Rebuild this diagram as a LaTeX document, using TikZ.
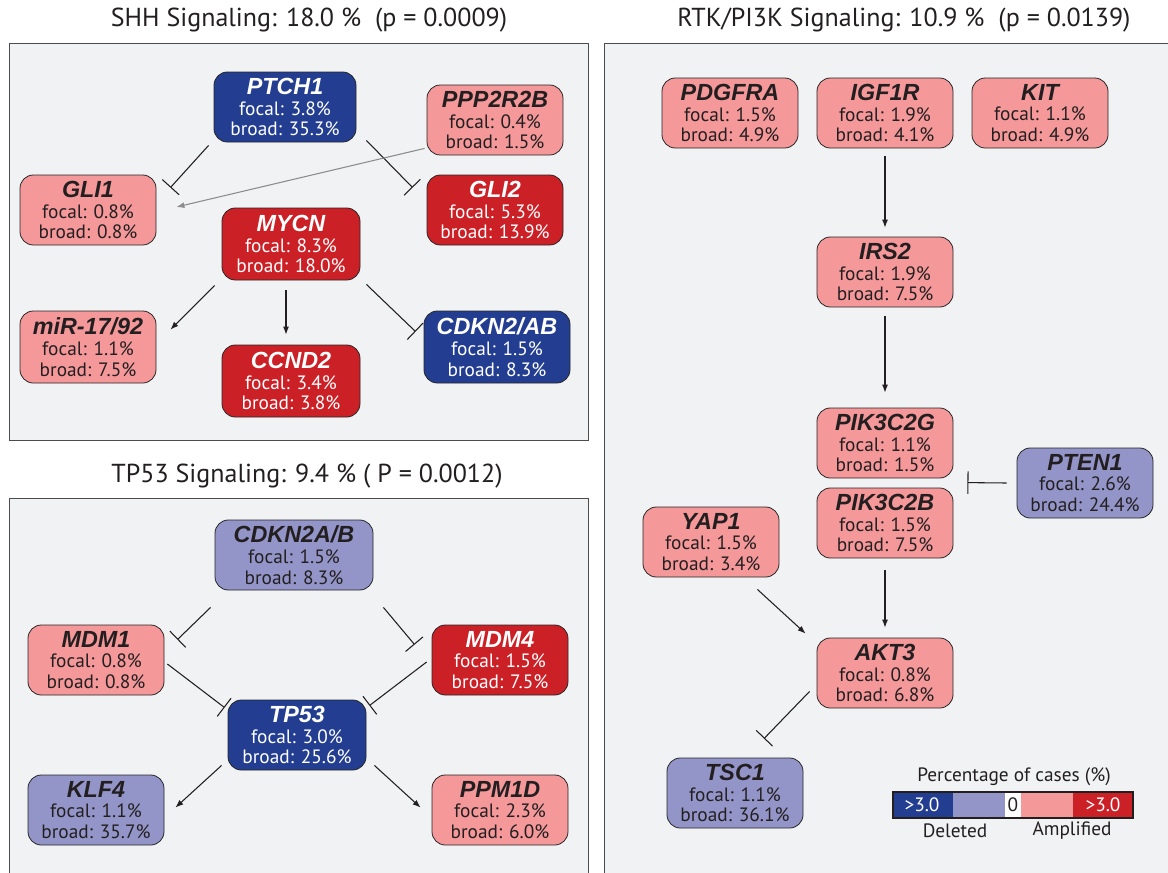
\documentclass[tikz,border=0pt]{standalone}
\usepackage{fontspec}
\setmainfont{PT Sans}
\newfontfamily\genefam{Liberation Sans}
\usetikzlibrary{arrows.meta,calc}
\definecolor{dblue}{RGB}{35,62,145}
\definecolor{lavc}{RGB}{147,149,200}
\definecolor{pinkc}{RGB}{244,152,154}
\definecolor{redc}{RGB}{204,32,39}
\definecolor{panelbg}{RGB}{241,242,244}
\definecolor{txt}{RGB}{35,31,32}
\newcommand\bodyfont{\fontsize{14.5}{15.5}\selectfont}
\newcommand\gn[1]{{\genefam\bfseries\itshape\fontsize{17.5}{15.5}\selectfont #1}}
\tikzset{
  gbox/.style={rectangle, rounded corners=10pt, draw=black!85, line width=0.6pt,
    minimum width=102pt, minimum height=52.5pt, align=center, inner sep=0pt, font=\bodyfont},
  amp/.style={gbox, fill=pinkc, text=txt},
  ampH/.style={gbox, fill=redc, text=white},
  del/.style={gbox, fill=lavc, text=txt},
  delH/.style={gbox, fill=dblue, text=white},
  act/.style={-{Latex[length=6pt,width=4.5pt]}, line width=0.8pt, draw=txt},
  inh/.style={-{Bar[width=17pt,line width=0.8pt]}, line width=0.8pt, draw=txt},
  panel/.style={fill=panelbg, draw=black!70, line width=0.7pt},
  ttl/.style={font=\fontsize{19.5}{24}\selectfont, text=txt},
  leg/.style={font=\fontsize{14.5}{16}\selectfont, text=txt, inner sep=0pt},
}
\begin{document}
\begin{tikzpicture}[x=0.75pt,y=-0.75pt]
\useasboundingbox (0,0) rectangle (1168,872);
\clip (0,0) rectangle (1168,872);
\fill[white] (0,0) rectangle (1168,872);

% panels
\draw[panel] (9,43) rectangle (588,440);
\draw[panel] (9,498) rectangle (588,890);
\draw[panel] (604,43) rectangle (1190,890);

% titles
\node[ttl] (tshh) at (309,20) {SHH Signaling: 18.0 \%\ \ (p = 0.0009)};
\node[ttl] (ttp) at (307,476) {TP53 Signaling: 9.4 \% ( P = 0.0012)};
\node[ttl] (trtk) at (904,20) {RTK/PI3K Signaling: 10.9 \%\ \ (p = 0.0139)};

% ---------- SHH ----------
\node[delH, minimum width=106.5pt] (ptch1) at (285,107) {\gn{PTCH1}\\focal: 3.8\%\\broad: 35.3\%};
\node[amp] (ppp) at (495,120) {\gn{PPP2R2B}\\focal: 0.4\%\\broad: 1.5\%};
\node[amp] (gli1) at (88,210) {\gn{GLI1}\\focal: 0.8\%\\broad: 0.8\%};
\node[ampH] (gli2) at (495,210) {\gn{GLI2}\\focal: 5.3\%\\broad: 13.9\%};
\node[ampH, minimum width=103.5pt, minimum height=54pt] (mycn) at (291,244) {\gn{MYCN}\\focal: 8.3\%\\broad: 18.0\%};
\node[amp, minimum height=54pt] (mir) at (88,347) {\gn{miR-17/92}\\focal: 1.1\%\\broad: 7.5\%};
\node[ampH, minimum width=103.5pt, minimum height=54pt] (ccnd2) at (291,381) {\gn{CCND2}\\focal: 3.4\%\\broad: 3.8\%};
\node[delH, minimum width=109.5pt, minimum height=54pt] (cdkn) at (497,347) {\gn{CDKN2/AB}\\focal: 1.5\%\\broad: 8.3\%};

\draw[inh] ($(ptch1.south west)+(-5,3)$) -- ($(gli1.north east)+(14,13)$);
\draw[inh] ($(ptch1.south east)+(10,-2)$) -- ($(gli2.north west)+(-14,13)$);
\draw[-{Latex[length=6pt,width=4.5pt]}, line width=0.8pt, draw=gray!90] ($(ppp.south west)+(-2,-7)$) -- ($(gli1.east)+(20,-3)$);
\draw[act] ($(mycn.south west)+(-7,5)$) -- ($(mir.north east)+(14,19)$);
\draw[act] ($(mycn.south)+(-5,10)$) -- ($(ccnd2.north)+(-5,-10)$);
\draw[inh] ($(mycn.south east)+(6,4)$) -- ($(cdkn.north west)+(-8,21)$);

% ---------- TP53 ----------
\node[del, minimum width=118.5pt] (cdknab) at (294,555) {\gn{CDKN2A/B}\\focal: 1.5\%\\broad: 8.3\%};
\node[amp] (mdm1) at (96,660) {\gn{MDM1}\\focal: 0.8\%\\broad: 0.8\%};
\node[ampH] (mdm4) at (500,660) {\gn{MDM4}\\focal: 1.5\%\\broad: 7.5\%};
\node[delH, minimum width=103.5pt] (tp53) at (297,735) {\gn{TP53}\\focal: 3.0\%\\broad: 25.6\%};
\node[del] (klf4) at (96,810) {\gn{KLF4}\\focal: 1.1\%\\broad: 35.7\%};
\node[amp] (ppm1d) at (500,810) {\gn{PPM1D}\\focal: 2.3\%\\broad: 6.0\%};

\draw[inh] ($(cdknab.south west)+(-4,17)$) -- ($(mdm1.north east)+(13,15)$);
\draw[inh] ($(cdknab.south east)+(10,17)$) -- ($(mdm4.north west)+(-17,20)$);
\draw[inh] ($(mdm1.east)+(3,4)$) -- ($(tp53.north west)+(-3,8)$);
\draw[inh] ($(mdm4.west)+(-5,2)$) -- ($(tp53.north east)+(3,6)$);
\draw[act] ($(tp53.south west)+(-6,-5)$) -- ($(klf4.north east)+(11,33)$);
\draw[act] ($(tp53.south east)+(8,-5)$) -- ($(ppm1d.north west)+(-11,33)$);

% ---------- RTK/PI3K ----------
\node[amp] (pdgfra) at (730,113) {\gn{PDGFRA}\\focal: 1.5\%\\broad: 4.9\%};
\node[amp] (igf1r) at (885,113) {\gn{IGF1R}\\focal: 1.9\%\\broad: 4.1\%};
\node[amp] (kit) at (1040,113) {\gn{KIT}\\focal: 1.1\%\\broad: 4.9\%};
\node[amp] (irs2) at (885,272) {\gn{IRS2}\\focal: 1.9\%\\broad: 7.5\%};
\node[amp] (pik3g) at (885,443) {\gn{PIK3C2G}\\focal: 1.1\%\\broad: 1.5\%};
\node[amp] (pik3b) at (885,523) {\gn{PIK3C2B}\\focal: 1.5\%\\broad: 7.5\%};
\node[del] (pten) at (1085,483) {\gn{PTEN1}\\focal: 2.6\%\\broad: 24.4\%};
\node[amp] (yap1) at (711,542) {\gn{YAP1}\\focal: 1.5\%\\broad: 3.4\%};
\node[amp] (akt3) at (885,673) {\gn{AKT3}\\focal: 0.8\%\\broad: 6.8\%};
\node[del] (tsc1) at (735,793) {\gn{TSC1}\\focal: 1.1\%\\broad: 36.1\%};

\draw[act] ($(igf1r.south)+(0,8)$) -- ($(irs2.north)+(0,-9)$);
\draw[act] ($(irs2.south)+(0,9)$) -- ($(pik3g.north)+(0,-15)$);
\draw[inh] ($(pten.west)+(-10,0)$) -- ($(pik3b.north east)+(14,-5)$);
\draw[act] ($(pik3b.south)+(0,12)$) -- ($(akt3.north)+(0,-10)$);
\draw[act] ($(yap1.south east)+(-22,12)$) -- ($(akt3.north west)+(-11,-4)$);
\draw[inh] ($(akt3.south west)+(-7,-17)$) -- ($(tsc1.north)+(29,-19)$);

% ---------- legend ----------
\node[leg] (legt) at (1014,777) {Percentage of cases (\%)};
\fill[dblue] (893,792) rectangle (953,818);
\fill[lavc] (953,792) rectangle (1005,818);
\fill[white] (1005,792) rectangle (1021,818);
\fill[pinkc] (1021,792) rectangle (1073,818);
\fill[redc] (1073,792) rectangle (1133,818);
\draw[line width=0.8pt, draw=txt] (893,792) rectangle (1133,818);
\node[leg, text=white] (l1) at (922,805) {>3.0};
\node[leg] (l0) at (1013,805) {0};
\node[leg, text=white] (l2) at (1103,805) {>3.0};
\node[leg] (ldel) at (955,831) {Deleted};
\node[leg] (lamp) at (1072,831) {Amplified};
\end{tikzpicture}
\end{document}
